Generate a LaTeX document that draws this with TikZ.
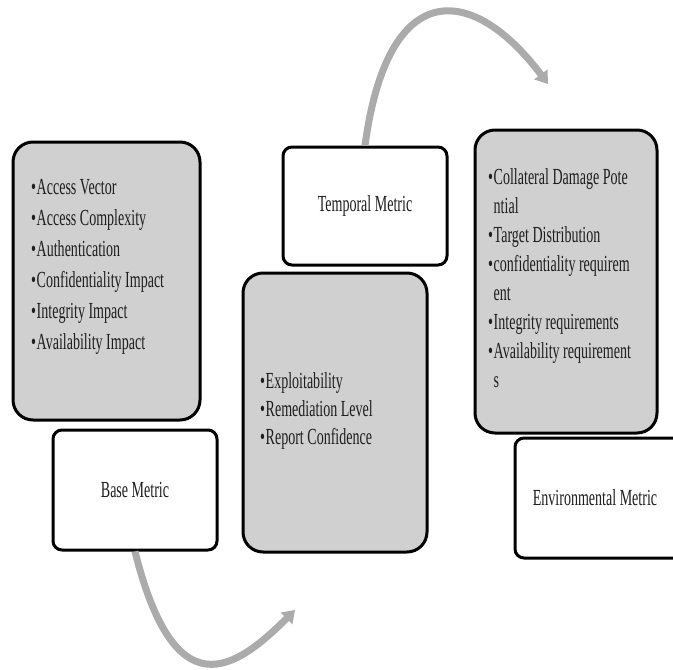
\documentclass[tikz,border=0pt]{standalone}
\usepackage{fontspec}
\setmainfont{Liberation Serif}
\newfontfamily\lblfont[FakeStretch=0.61]{Liberation Serif}
\usetikzlibrary{arrows.meta}

\definecolor{panelgray}{HTML}{D0D0D0}
\definecolor{arrowgray}{HTML}{ABABAB}
\definecolor{inkgray}{HTML}{1E1E1E}

\begin{document}
\begin{tikzpicture}[x=1pt,y=-1pt,
  metricbox/.style={draw=black, line width=3pt, fill=white, rounded corners=9pt,
    inner sep=0pt, text=inkgray, font=\lblfont\fontsize{23}{28}\selectfont},
  listbox/.style={draw=black, line width=3pt, fill=panelgray, rounded corners=20pt,
    inner sep=0pt},
  listtext/.style={anchor=base west, inner sep=0pt, text=inkgray,
    font=\lblfont\fontsize{23}{#1}\selectfont},
  cyclearrow/.style={draw=arrowgray, line width=7pt,
    -{Triangle[length=12pt,width=16pt]}}
]
\useasboundingbox (0,0) rectangle (673,670);

% detail panels
\node[listbox, minimum width=187pt, minimum height=278pt] (basepanel) at (106.5,281) {};
\node[listbox, minimum width=184pt, minimum height=279pt] (temppanel) at (335,412.5) {};
\node[listbox, minimum width=182pt, minimum height=303pt] (envpanel) at (566,281.5) {};

% metric titles (the last one runs past the right edge)
\node[metricbox, minimum width=164pt, minimum height=120pt] (bm) at (135,490) {Base Metric};
\node[metricbox, minimum width=164pt, minimum height=118pt] (tm) at (365,206) {Temporal Metric};
\node[metricbox, minimum width=172pt, minimum height=120pt] (em) at (601,498) {\makebox[0pt]{\hspace*{-12pt}Environmental Metric}};

% bullet lists
\node[listtext=31] (baselist) at (31,194) {\begin{tabular}[t]{@{}l@{\hspace{0.6pt}}l@{}}
\textbullet & Access Vector\\
\textbullet & Access Complexity\\
\textbullet & Authentication\\
\textbullet & Confidentiality Impact\\
\textbullet & Integrity Impact\\
\textbullet & Availability Impact
\end{tabular}};

\node[listtext=28] (templist) at (260,388) {\begin{tabular}[t]{@{}l@{\hspace{0.6pt}}l@{}}
\textbullet & Exploitability\\
\textbullet & Remediation Level\\
\textbullet & Report Confidence
\end{tabular}};

\node[listtext=29] (envlist) at (488,184) {\begin{tabular}[t]{@{}l@{\hspace{0.6pt}}l@{}}
\textbullet & Collateral Damage Pote\\
 & ntial\\
\textbullet & Target Distribution\\
\textbullet & confidentiality requirem\\
 & ent\\
\textbullet & Integrity requirements\\
\textbullet & Availability requirement\\
 & s
\end{tabular}};

% cycle arrows
\coordinate (topend) at (548,84);
\coordinate (bottomend) at (295,610);
\draw[cyclearrow] (tm.north) .. controls (388,-25) and (473,-16) .. (topend);
\draw[cyclearrow] (bm.south) .. controls (175,711) and (235,670) .. (bottomend);
\end{tikzpicture}
\end{document}
